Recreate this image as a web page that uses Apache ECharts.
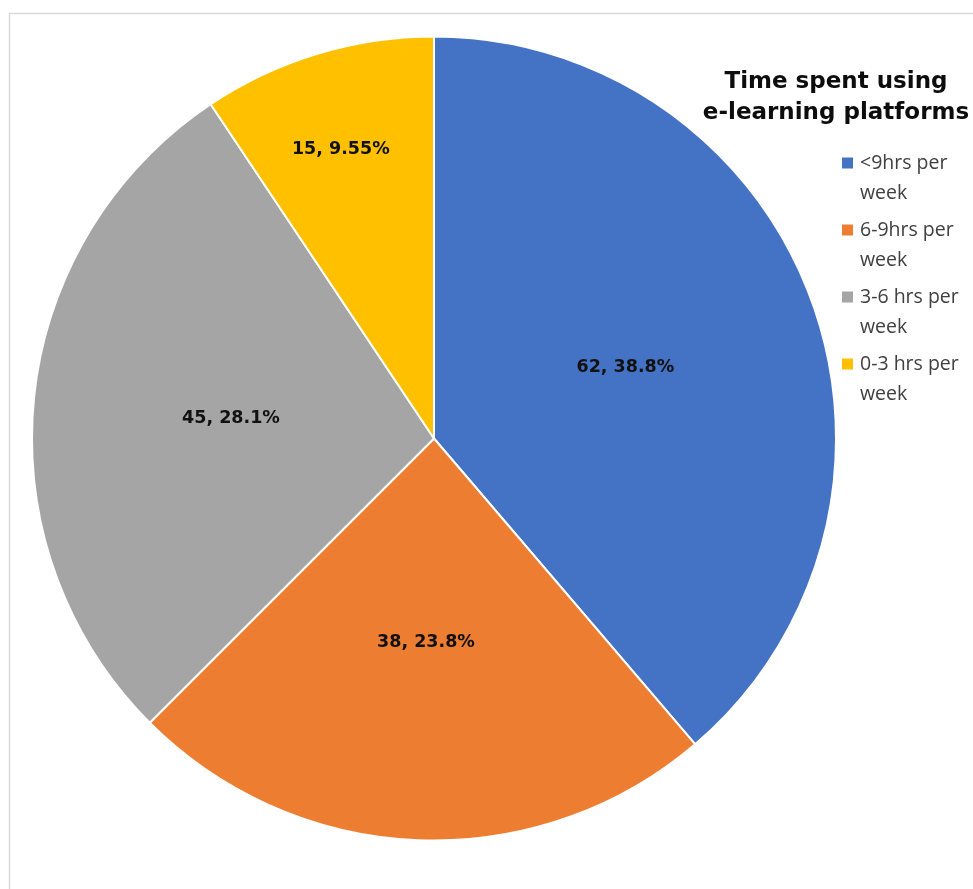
<!DOCTYPE html>
<html>
<head>
<meta charset="utf-8">
<script src="https://cdn.jsdelivr.net/npm/echarts@6/dist/echarts.min.js"></script>
<style>
html,body{margin:0;padding:0;background:#fff;}
#chart{width:973px;height:889px;}
</style>
</head>
<body>
<div id="chart"></div>
<script>
var categories = ['<9hrs per week', '6-9hrs per week', '3-6 hrs per week', '0-3 hrs per week'];
var values = [62, 38, 45, 15];
var percentLabels = ['38.8%', '23.8%', '28.1%', '9.55%'];
var colors = ['#4472C4', '#ED7D31', '#A5A5A5', '#FFC000'];
var chartTitle = 'Time spent using\ne-learning platforms';

var chart = echarts.init(document.getElementById('chart'));

var data = categories.map(function (c, i) {
  var item = { name: c, value: values[i], itemStyle: { color: colors[i] } };
  if (i === 3) { item.label = { offset: [-34, -94] }; }
  return item;
});

var option = {
  animation: false,
  backgroundColor: '#ffffff',
  graphic: [{
    type: 'rect',
    shape: { x: 9.5, y: 13.5, width: 1200, height: 1200 },
    style: { fill: 'none', stroke: '#d9d9d9', lineWidth: 1.5 },
    silent: true
  }],
  title: {
    text: chartTitle,
    left: 836,
    top: 67,
    textAlign: 'center',
    padding: 0,
    textStyle: {
      fontFamily: 'DejaVu Sans',
      fontWeight: 'bold',
      fontSize: 23,
      lineHeight: 31,
      color: '#0d0d0d'
    }
  },
  legend: {
    orient: 'vertical',
    left: 840,
    top: 148,
    padding: 0,
    itemGap: 7,
    itemWidth: 13,
    itemHeight: 43,
    symbolKeepAspect: false,
    icon: 'path://M0,0L13,0L13,13L0,13Z M0,42.98L0.02,42.98L0.02,43L0,43Z',
    data: categories,
    formatter: function (name) { return name.replace(' week', '\nweek'); },
    textStyle: {
      fontFamily: 'Open Sans',
      fontSize: 19.5,
      lineHeight: 30,
      padding: [0, 0, 0, 1],
      color: '#404040'
    }
  },
  series: [{
    type: 'pie',
    center: [434, 438.5],
    radius: [0, 402],
    startAngle: 90,
    clockwise: true,
    data: data,
    itemStyle: { borderColor: '#ffffff', borderWidth: 2 },
    label: {
      show: true,
      position: 'inside',
      formatter: function (p) { return p.value + ', ' + percentLabels[p.dataIndex]; },
      fontFamily: 'DejaVu Sans',
      fontWeight: 'bold',
      fontSize: 17.5,
      color: '#111111'
    },
    labelLine: { show: false },
    emphasis: { disabled: true }
  }]
};
chart.setOption(option);
</script>
</body>
</html>
